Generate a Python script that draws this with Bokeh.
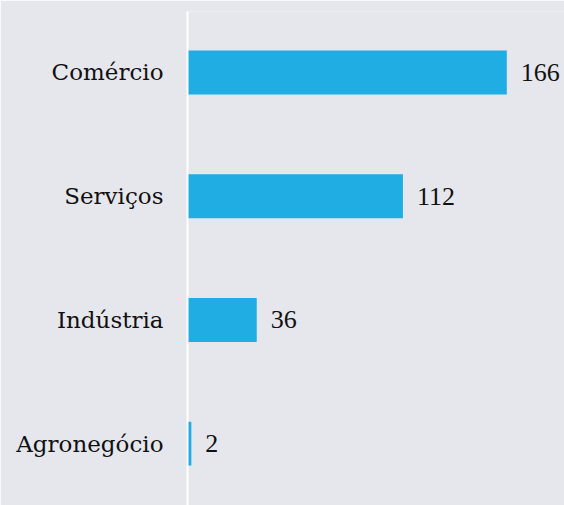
from bokeh.plotting import figure
from bokeh.models import ColumnDataSource, Range1d, FixedTicker, LabelSet
from bokeh.embed import file_html
from bokeh.resources import INLINE

categories = ["Agronegócio", "Indústria", "Serviços", "Comércio"]
values = [2, 36, 112, 166]
value_labels = [str(v) for v in values]

positions = [i + 0.5 for i in range(len(categories))]

src = ColumnDataSource(dict(y=positions, v=values, lab=value_labels))

FONT = "DejaVu Serif"

p = figure(width=564, height=505, output_backend="svg", toolbar_location=None,
           x_range=Range1d(0, 196), y_range=Range1d(0.0, 3.993),
           min_border_left=187, min_border_right=0, min_border_top=11, min_border_bottom=0)
p.background_fill_color = "#e6e7ed"
p.border_fill_color = "#e6e7ed"
p.outline_line_color = None
p.xaxis.visible = False
p.xgrid.visible = False
p.ygrid.visible = False

p.hbar(y="y", right="v", left=0, height=0.355, source=src, color="#1fade3", line_color=None)

labels = LabelSet(x="v", y="y", text="lab", source=src, x_offset=14,
                  text_baseline="middle", text_align="left",
                  text_font=FONT, text_font_size="26px", text_color="#111111")
p.add_layout(labels)

ax = p.yaxis[0]
ax.ticker = FixedTicker(ticks=positions)
ax.major_label_overrides = {pos: c for pos, c in zip(positions, categories)}
ax.major_tick_line_color = None
ax.minor_tick_line_color = None
ax.axis_line_color = "white"
ax.axis_line_width = 2
ax.major_label_standoff = 18
ax.major_label_text_font = FONT
ax.major_label_text_font_size = "23px"
ax.major_label_text_color = "#111111"

open("out.html", "w").write(file_html(p, INLINE))
